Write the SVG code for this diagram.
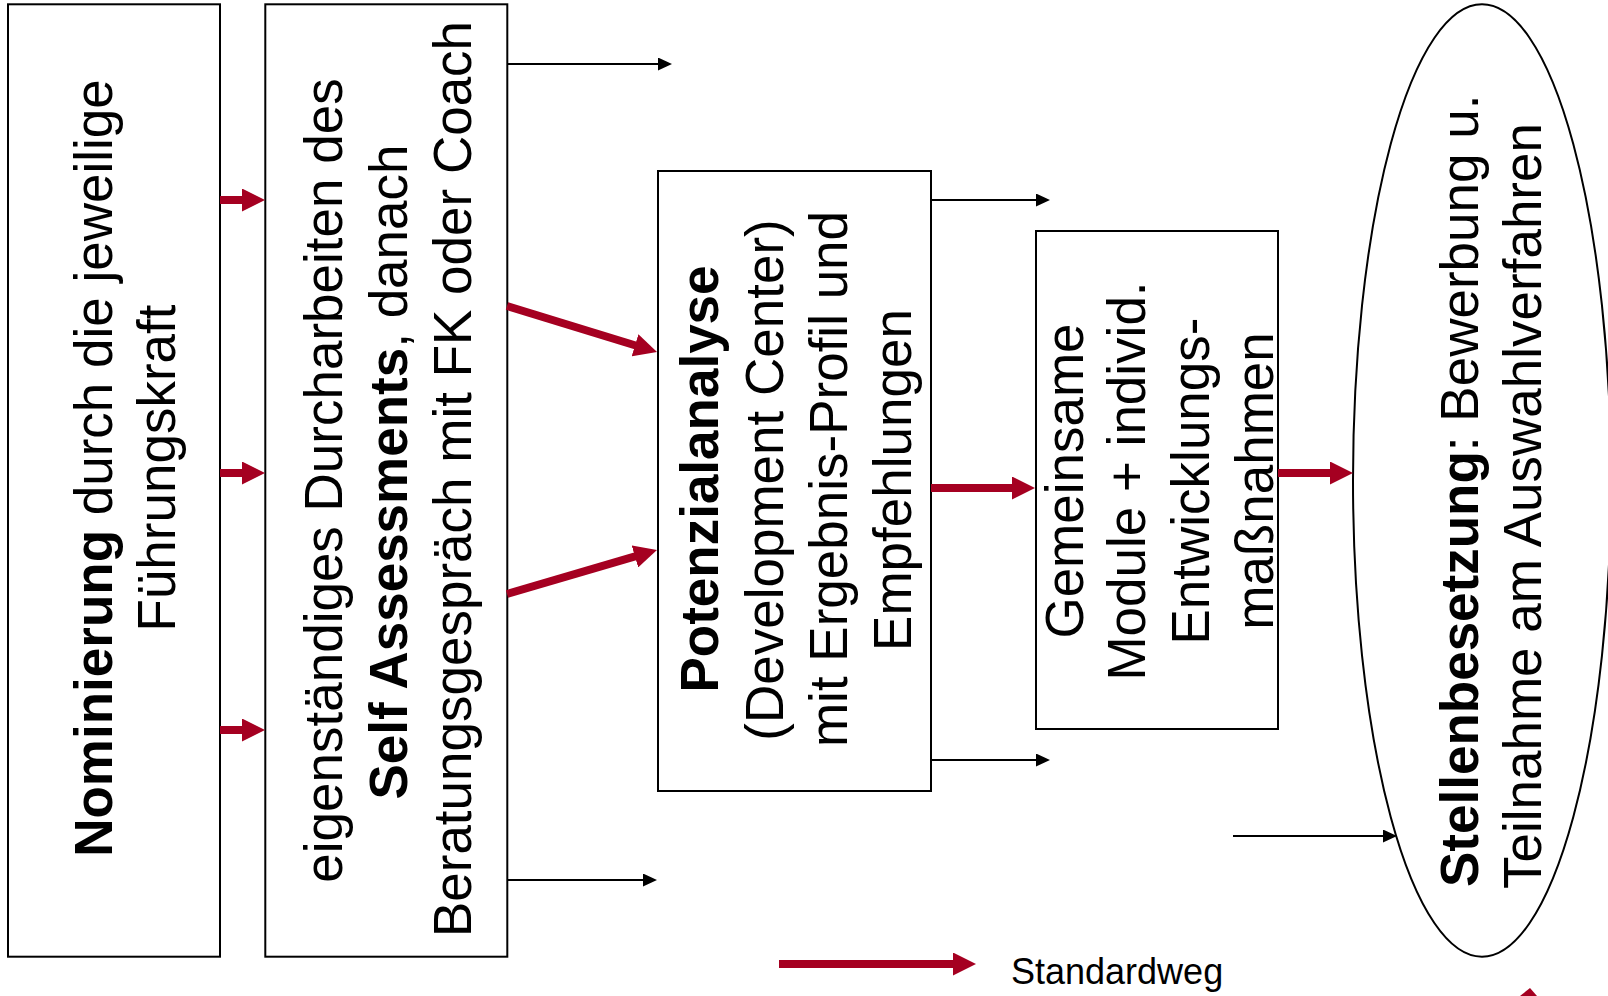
<svg xmlns="http://www.w3.org/2000/svg" width="1608" height="996" viewBox="0 0 1608 996">
<style>
.box{fill:#ffffff;stroke:#000000;stroke-width:2}
.t{font-family:"Liberation Sans",Arial,sans-serif;font-size:53px;fill:#000000}
.b{font-weight:bold}
.red{stroke:#A50021;stroke-width:8;fill:none}
.blk{stroke:#000000;stroke-width:2;fill:none}
.lg{font-family:"Liberation Sans",Arial,sans-serif;font-size:36px;fill:#000000}
</style>
<defs>
<marker id="rh" markerUnits="userSpaceOnUse" markerWidth="23" markerHeight="23" refX="10" refY="11.5" orient="auto" viewBox="0 0 23 23">
<path d="M0,0 L23,11.5 L0,23 Z" fill="#A50021"/>
</marker>
<marker id="bh" markerUnits="userSpaceOnUse" markerWidth="14" markerHeight="13" refX="6" refY="6.5" orient="auto" viewBox="0 0 14 13">
<path d="M0,0 L14,6.5 L0,13 Z" fill="#000000"/>
</marker>
</defs>
<rect width="1608" height="996" fill="#ffffff"/>

<g id="n1">
<rect class="box" x="8" y="4.3" width="212" height="952.4"/>
<text class="t" transform="translate(112,468) rotate(-90)" text-anchor="middle"><tspan class="b">Nominierung</tspan> durch die jeweilige</text>
<text class="t" transform="translate(175,468) rotate(-90)" text-anchor="middle">Führungskraft</text>
</g>

<g id="n2">
<rect class="box" x="265.3" y="4.3" width="242" height="952.4"/>
<text class="t" transform="translate(342,480.5) rotate(-90)" text-anchor="middle">eigenständiges Durcharbeiten des</text>
<text class="t" transform="translate(407,472) rotate(-90)" text-anchor="middle"><tspan class="b">Self Assessments</tspan>, danach</text>
<text class="t" transform="translate(471,479) rotate(-90)" text-anchor="middle">Beratungsgespräch mit FK oder Coach</text>
</g>

<g id="n3">
<rect class="box" x="658" y="171" width="273" height="620"/>
<text class="t b" transform="translate(718,479) rotate(-90)" text-anchor="middle">Potenzialanalyse</text>
<text class="t" transform="translate(783,480) rotate(-90)" text-anchor="middle">(Development Center)</text>
<text class="t" transform="translate(847,479) rotate(-90)" text-anchor="middle">mit Ergebnis-Profil und</text>
<text class="t" transform="translate(911,480) rotate(-90)" text-anchor="middle">Empfehlungen</text>
</g>

<g id="n4">
<rect class="box" x="1036" y="231" width="242" height="498"/>
<text class="t" transform="translate(1083,481) rotate(-90)" text-anchor="middle">Gemeinsame</text>
<text class="t" transform="translate(1145,481) rotate(-90)" text-anchor="middle">Module + individ.</text>
<text class="t" transform="translate(1209,481) rotate(-90)" text-anchor="middle">Entwicklungs-</text>
<text class="t" transform="translate(1273,481) rotate(-90)" text-anchor="middle">maßnahmen</text>
</g>

<g id="n5">
<ellipse class="box" cx="1482" cy="480.5" rx="129" ry="476.2"/>
<text class="t" transform="translate(1478,887) rotate(-90)" text-anchor="start"><tspan class="b">Stellenbesetzung</tspan>: Bewerbung u.</text>
<text class="t" transform="translate(1541,889) rotate(-90)" text-anchor="start">Teilnahme am Auswahlverfahren</text>
</g>

<g id="connectors">
<line class="red" x1="220" y1="200" x2="252" y2="200" marker-end="url(#rh)"/>
<line class="red" x1="220" y1="473" x2="252" y2="473" marker-end="url(#rh)"/>
<line class="red" x1="220" y1="730" x2="252" y2="730" marker-end="url(#rh)"/>
<line class="red" x1="507" y1="306" x2="644.6" y2="348.2" marker-end="url(#rh)"/>
<line class="red" x1="507" y1="594" x2="644.5" y2="553.6" marker-end="url(#rh)"/>
<line class="red" x1="931" y1="488" x2="1022" y2="488" marker-end="url(#rh)"/>
<line class="red" x1="1278" y1="473" x2="1340" y2="473" marker-end="url(#rh)"/>
<line class="blk" x1="507" y1="64" x2="664" y2="64" marker-end="url(#bh)"/>
<line class="blk" x1="507" y1="880" x2="649" y2="880" marker-end="url(#bh)"/>
<line class="blk" x1="931" y1="200" x2="1042" y2="200" marker-end="url(#bh)"/>
<line class="blk" x1="931" y1="760" x2="1042" y2="760" marker-end="url(#bh)"/>
<line class="blk" x1="1233" y1="836" x2="1389" y2="836" marker-end="url(#bh)"/>
<polygon points="1530,988 1537,996 1520,996" fill="#A50021"/>
</g>

<g id="legend">
<line class="red" x1="779" y1="964" x2="963" y2="964" marker-end="url(#rh)"/>
<text class="lg" x="1011" y="984">Standardweg</text>
</g>
</svg>
